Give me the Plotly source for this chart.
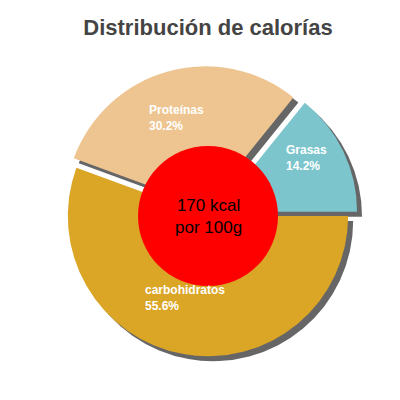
import plotly.graph_objects as go

labels = ["Grasas", "Proteínas", "carbohidratos"]
values = [14.2, 30.2, 55.6]
pct_text = ["14.2%", "30.2%", "55.6%"]
colors = ["#7cc5cc", "#eec591", "#dba526"]
pulls = [0.07, 0.07, 0]
label_pos = [(276, 150), (139, 93), (135, 307)]  # pixel positions of label text (left, center y)

W = 400
cx, cy, r = 200, 192, 150
dom_x = [(cx - r) / W, (cx + r) / W]
dom_y = [(cy - r) / W, (cy + r) / W]
off = 5 / W
rot = 90 - values[0] * 3.6

fig = go.Figure()
# shadow
fig.add_trace(go.Pie(
    labels=labels, values=values, sort=False, direction="counterclockwise",
    rotation=rot, pull=pulls, marker=dict(colors=["#666666"] * 3),
    textinfo="none", hoverinfo="skip", showlegend=False,
    domain=dict(x=[dom_x[0] + off, dom_x[1] + off], y=[dom_y[0] - off, dom_y[1] - off]),
))
fig.add_trace(go.Pie(
    labels=labels, values=values, sort=False, direction="counterclockwise",
    rotation=rot, pull=pulls, marker=dict(colors=colors),
    textinfo="none", showlegend=False, domain=dict(x=dom_x, y=dom_y),
))

for lab, pct, (px, py) in zip(labels, pct_text, label_pos):
    fig.add_annotation(text=f"<b>{lab}<br>{pct}</b>", x=px / W, y=1 - py / W,
                       xref="paper", yref="paper", xanchor="left", align="left",
                       showarrow=False,
                       font=dict(size=12, color="white", family="Liberation Sans"))

fig.add_shape(type="circle", xref="paper", yref="paper",
              x0=(cx - 70) / W, x1=(cx + 70) / W, y0=(cy - 70) / W, y1=(cy + 70) / W,
              fillcolor="#ff0000", line=dict(width=0), layer="above")
fig.add_annotation(text="170 kcal<br>por 100g", x=cx / W, y=cy / W, xref="paper", yref="paper",
                   showarrow=False, font=dict(size=17, color="black", family="Liberation Sans"))

fig.update_layout(
    width=400, height=400, margin=dict(l=0, r=0, t=0, b=0),
    paper_bgcolor="white",
    title=dict(text="<b>Distribución de calorías</b>", x=0.5, y=0.97, xanchor="center",
               font=dict(size=22, color="#444444", family="Liberation Sans")),
)

fig.write_html("out.html")
